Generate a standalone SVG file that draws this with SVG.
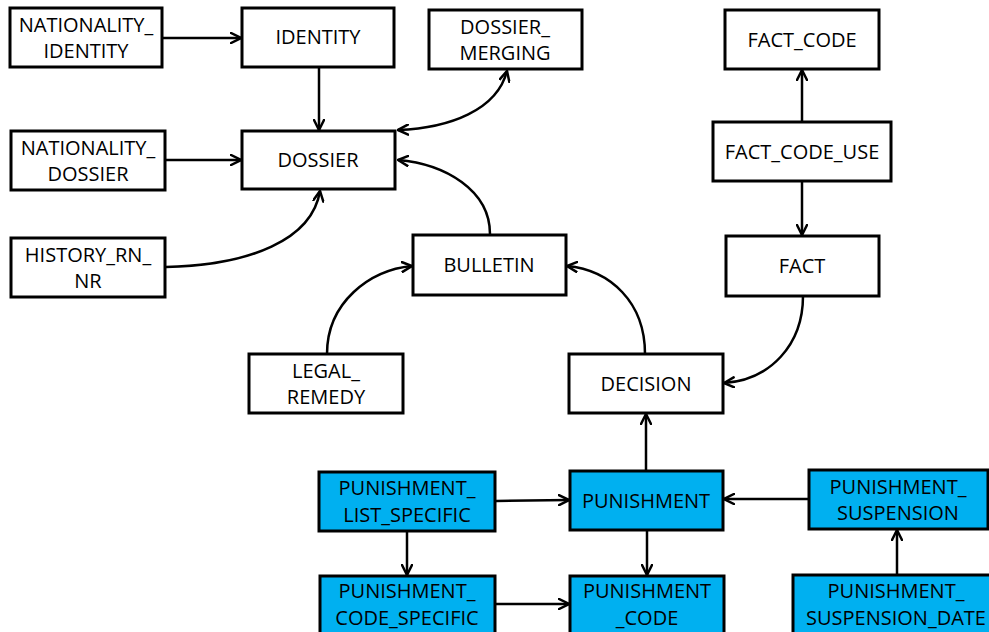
<svg xmlns="http://www.w3.org/2000/svg" width="989" height="632" viewBox="0 0 989 632">
<defs>
<style>
.box{fill:#ffffff;stroke:#000000;stroke-width:3}
.blue{fill:#00b0f0;stroke:#000000;stroke-width:3}
text{font-family:"Open Sans","Noto Sans","Liberation Sans",sans-serif;font-size:20px;fill:#000000;text-anchor:middle}
.c{fill:none;stroke:#000000;stroke-width:2.5}
</style>
<marker id="arr" viewBox="0 0 12 12" refX="11" refY="6" markerWidth="12" markerHeight="12" markerUnits="userSpaceOnUse" orient="auto-start-reverse">
<path d="M1,1 L11,6 L1,11" fill="none" stroke="#000000" stroke-width="2.5" stroke-linecap="round" stroke-linejoin="miter"/>
</marker>
</defs>
<rect width="989" height="632" fill="#ffffff"/>

<g id="connectors">
<path class="c" d="M163,38 L241,38" marker-end="url(#arr)"/>
<path class="c" d="M319,67 L319,130" marker-end="url(#arr)"/>
<path class="c" d="M165,160 L241,160" marker-end="url(#arr)"/>
<path class="c" d="M166,267 C250,265 312,240 320,191" marker-end="url(#arr)"/>
<path class="c" d="M398,130 C450,128 497,110 507,71" marker-start="url(#arr)" marker-end="url(#arr)"/>
<path class="c" d="M490,234 C490,190 445,164 398,160" marker-end="url(#arr)"/>
<path class="c" d="M327,354 C327,302 370,270 412,266" marker-end="url(#arr)"/>
<path class="c" d="M645,354 C645,302 610,270 567,266" marker-end="url(#arr)"/>
<path class="c" d="M802,122 L802,70" marker-end="url(#arr)"/>
<path class="c" d="M802,181 L802,235" marker-end="url(#arr)"/>
<path class="c" d="M803,296 C803,345 770,380 724,383" marker-end="url(#arr)"/>
<path class="c" d="M646,471 L646,414" marker-end="url(#arr)"/>
<path class="c" d="M496,501 L569,500" marker-end="url(#arr)"/>
<path class="c" d="M647,530 L647,575" marker-end="url(#arr)"/>
<path class="c" d="M407,531 L407,575" marker-end="url(#arr)"/>
<path class="c" d="M496,604 L569,604" marker-end="url(#arr)"/>
<path class="c" d="M808,499 L724,499" marker-end="url(#arr)"/>
<path class="c" d="M897,575 L897,530" marker-end="url(#arr)"/>
</g>

<g id="nationality_identity"><rect class="box" x="10" y="8" width="152" height="59"/><text x="86" y="32">NATIONALITY_</text><text x="86" y="58">IDENTITY</text></g>
<g id="identity"><rect class="box" x="242" y="8" width="152" height="59"/><text x="318" y="44">IDENTITY</text></g>
<g id="dossier_merging"><rect class="box" x="429" y="10" width="153" height="59"/><text x="505" y="34">DOSSIER_</text><text x="505" y="60">MERGING</text></g>
<g id="nationality_dossier"><rect class="box" x="11" y="131" width="154" height="59"/><text x="88" y="155">NATIONALITY_</text><text x="88" y="181">DOSSIER</text></g>
<g id="dossier"><rect class="box" x="242" y="131" width="153" height="58"/><text x="318" y="167">DOSSIER</text></g>
<g id="history_rn_nr"><rect class="box" x="11" y="238" width="154" height="59"/><text x="88" y="262">HISTORY_RN_</text><text x="88" y="288">NR</text></g>
<g id="bulletin"><rect class="box" x="413" y="235" width="153" height="60"/><text x="489" y="272">BULLETIN</text></g>
<g id="fact_code"><rect class="box" x="725" y="10" width="154" height="59"/><text x="802" y="47">FACT_CODE</text></g>
<g id="fact_code_use"><rect class="box" x="713" y="122" width="178" height="59"/><text x="802" y="159">FACT_CODE_USE</text></g>
<g id="fact"><rect class="box" x="726" y="236" width="153" height="60"/><text x="802" y="273">FACT</text></g>
<g id="legal_remedy"><rect class="box" x="249" y="354" width="154" height="59"/><text x="326" y="378">LEGAL_</text><text x="326" y="404">REMEDY</text></g>
<g id="decision"><rect class="box" x="569" y="354" width="154" height="59"/><text x="646" y="391">DECISION</text></g>
<g id="punishment_list_specific"><rect class="blue" x="319" y="472" width="176" height="59"/><text x="407" y="495">PUNISHMENT_</text><text x="407" y="522">LIST_SPECIFIC</text></g>
<g id="punishment"><rect class="blue" x="570" y="471" width="153" height="59"/><text x="646" y="508">PUNISHMENT</text></g>
<g id="punishment_suspension"><rect class="blue" x="809" y="470" width="179" height="59"/><text x="898" y="494">PUNISHMENT_</text><text x="898" y="520">SUSPENSION</text></g>
<g id="punishment_code_specific"><rect class="blue" x="320" y="576" width="175" height="60"/><text x="407" y="598">PUNISHMENT_</text><text x="407" y="625">CODE_SPECIFIC</text></g>
<g id="punishment_code"><rect class="blue" x="570" y="576" width="154" height="60"/><text x="647" y="598">PUNISHMENT</text><text x="647" y="625">_CODE</text></g>
<g id="punishment_suspension_date"><rect class="blue" x="793" y="575" width="204" height="60"/><text x="896" y="598">PUNISHMENT_</text><text x="896" y="625">SUSPENSION_DATE</text></g>
</svg>
